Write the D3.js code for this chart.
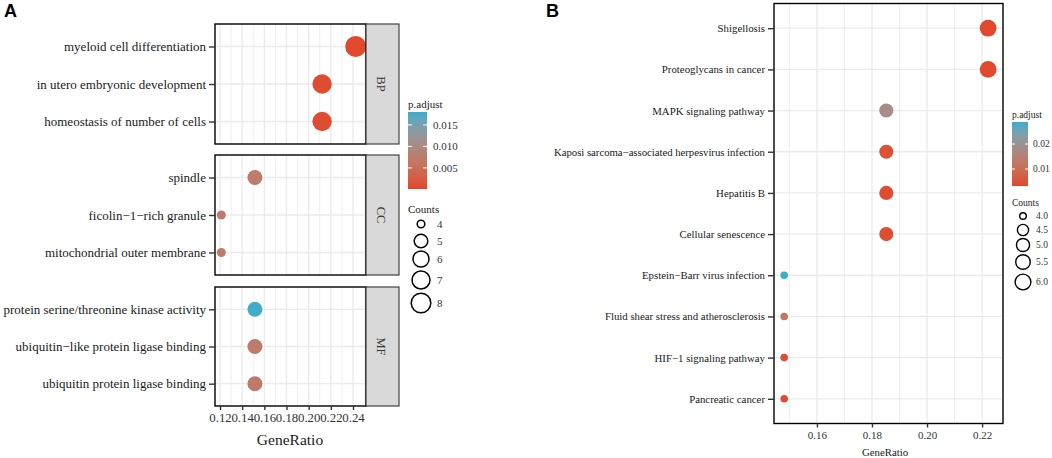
<!DOCTYPE html>
<html><head><meta charset="utf-8">
<script src="https://cdn.jsdelivr.net/npm/d3@7"></script>
<style>body{margin:0;background:#fff}svg{display:block}text{font-family:"Liberation Serif","Times New Roman",serif;fill:#1a1a1a}</style>
</head><body>
<svg id="c" width="1052" height="458"></svg>
<script>
// ---- Panel A data ----
const goOntology = ["BP","BP","BP","CC","CC","CC","MF","MF","MF"];
const goTerms = ["myeloid cell differentiation","in utero embryonic development","homeostasis of number of cells",
  "spindle","ficolin\u22121\u2212rich granule","mitochondrial outer membrane",
  "protein serine/threonine kinase activity","ubiquitin\u2212like protein ligase binding","ubiquitin protein ligase binding"];
const goRatio = [0.2424,0.2121,0.2121,0.1515,0.1212,0.1212,0.1515,0.1515,0.1515];
const goCounts = [8,7,7,5,4,4,5,5,5];
const goPadj = [0.0003,0.0006,0.0006,0.0072,0.0075,0.0075,0.0178,0.0072,0.0072];
const goXTicks = [0.12,0.14,0.16,0.18,0.20,0.22,0.24];
const goPadjTicks = [0.005,0.010,0.015];
const goCountTicks = [4,5,6,7,8];
// ---- Panel B data ----
const keggTerms = ["Shigellosis","Proteoglycans in cancer","MAPK signaling pathway",
  "Kaposi sarcoma\u2212associated herpesvirus infection","Hepatitis B","Cellular senescence",
  "Epstein\u2212Barr virus infection","Fluid shear stress and atherosclerosis","HIF\u22121 signaling pathway","Pancreatic cancer"];
const keggRatio = [0.2222,0.2222,0.1852,0.1852,0.1852,0.1852,0.1481,0.1481,0.1481,0.1481];
const keggCounts = [6,6,5,5,5,5,4,4,4,4];
const keggPadj = [0.0034,0.0034,0.0180,0.0045,0.0040,0.0040,0.0288,0.0120,0.0045,0.0040];
const keggXTicks = [0.16,0.18,0.20,0.22];
const keggPadjTicks = [0.01,0.02];
const keggCountTicks = [4.0,4.5,5.0,5.5,6.0];

const svg = d3.select("#c");
const LOW="#E2472D", HIGH="#3AAECB";
const gridCol="#EBEBEB";
const SERIF="Liberation Serif, Times New Roman, serif";

function areaSize(lo,hi,rmin,rmax){
  return v => rmin + (rmax-rmin)*Math.sqrt((v-lo)/(hi-lo));
}

svg.append("text").attr("x",4).attr("y",17).text("A").style("font-family","Liberation Sans, Arial, sans-serif").style("font-weight","bold").style("font-size","18px").style("fill","#000");
svg.append("text").attr("x",546).attr("y",17).text("B").style("font-family","Liberation Sans, Arial, sans-serif").style("font-weight","bold").style("font-size","18px").style("fill","#000");

// ===== Panel A =====
(function(){
  const x = d3.scaleLinear().domain([0.1155,0.2517]).range([215,366]);
  const col = d3.scaleLinear().domain([0.0001,0.018]).range([LOW,HIGH]).interpolate(d3.interpolateLab);
  const rs = areaSize(4,8,4.5,10.5);
  const facets = [{k:"BP",y0:24,y1:144},{k:"CC",y0:155,y1:275},{k:"MF",y0:287,y1:406}];
  const minor = [0.13,0.15,0.17,0.19,0.21,0.23,0.25];
  facets.forEach(f=>{
    const idx = goOntology.map((o,i)=>o===f.k?i:-1).filter(i=>i>=0);
    const y = d3.scalePoint().domain(idx.map(i=>goTerms[i])).range([f.y0,f.y1]).padding(0.6);
    const g = svg.append("g");
    g.selectAll(".mn").data(minor).join("line").attr("x1",d=>x(d)).attr("x2",d=>x(d)).attr("y1",f.y0).attr("y2",f.y1).attr("stroke",gridCol).attr("stroke-width",0.8);
    g.selectAll(".mj").data(goXTicks).join("line").attr("x1",d=>x(d)).attr("x2",d=>x(d)).attr("y1",f.y0).attr("y2",f.y1).attr("stroke",gridCol).attr("stroke-width",1.3);
    g.selectAll(".hy").data(idx).join("line").attr("x1",215).attr("x2",366).attr("y1",i=>y(goTerms[i])).attr("y2",i=>y(goTerms[i])).attr("stroke",gridCol).attr("stroke-width",1.3);
    g.selectAll("circle").data(idx).join("circle").attr("cx",i=>x(goRatio[i])).attr("cy",i=>y(goTerms[i])).attr("r",i=>rs(goCounts[i])).attr("fill",i=>col(goPadj[i]));
    g.append("rect").attr("x",215).attr("y",f.y0).attr("width",151).attr("height",f.y1-f.y0).attr("fill","none").attr("stroke","#000").attr("stroke-width",1.4);
    g.append("rect").attr("x",366).attr("y",f.y0).attr("width",33).attr("height",f.y1-f.y0).attr("fill","#D9D9D9").attr("stroke","#333").attr("stroke-width",1.1);
    g.append("text").attr("transform",`translate(${381},${(f.y0+f.y1)/2}) rotate(90)`).attr("text-anchor","middle").attr("dy","0.35em").style("font-size","12.5px").style("fill","#333").text(f.k);
    const ay = g.append("g").attr("transform","translate(215,0)").call(d3.axisLeft(y).tickSize(6).tickPadding(3));
    ay.select(".domain").remove();
    ay.selectAll("line").attr("stroke","#333").attr("stroke-width",1.4);
    ay.selectAll("text").style("font-size","13px").style("font-family",SERIF).style("fill","#1a1a1a");
  });
  const ax = svg.append("g").attr("transform","translate(0,406)").call(d3.axisBottom(x).tickValues(goXTicks).tickFormat(d3.format(".2f")).tickSize(4).tickPadding(3));
  ax.select(".domain").remove();
  ax.selectAll("line").attr("stroke","#333").attr("stroke-width",1.4);
  ax.selectAll("text").style("font-size","12.8px").style("font-family",SERIF).style("fill","#333");
  svg.append("text").attr("x",290).attr("y",445).attr("text-anchor","middle").style("font-size","15.5px").text("GeneRatio");
  const cb = d3.scaleLinear().domain([0.0001,0.018]).range([189,112]);
  const defs = svg.append("defs");
  const gr = defs.append("linearGradient").attr("id","gA").attr("x1",0).attr("x2",0).attr("y1",1).attr("y2",0);
  d3.range(0,1.0001,0.1).forEach(t=>gr.append("stop").attr("offset",t).attr("stop-color",col(0.0001+t*(0.018-0.0001))));
  svg.append("text").attr("x",408).attr("y",108).style("font-size","11px").text("p.adjust");
  svg.append("rect").attr("x",408).attr("y",112).attr("width",19).attr("height",77).attr("fill","url(#gA)");
  goPadjTicks.forEach(v=>{
    svg.append("line").attr("x1",408).attr("x2",412).attr("y1",cb(v)).attr("y2",cb(v)).attr("stroke","#fff").attr("stroke-width",1);
    svg.append("line").attr("x1",423).attr("x2",427).attr("y1",cb(v)).attr("y2",cb(v)).attr("stroke","#fff").attr("stroke-width",1);
    svg.append("text").attr("x",433).attr("y",cb(v)).attr("dy","0.35em").style("font-size","11px").style("fill","#333").text(d3.format(".3f")(v));
  });
  svg.append("text").attr("x",408).attr("y",213).style("font-size","11px").text("Counts");
  const cy=[224,241,259,280,303];
  goCountTicks.forEach((v,i)=>{
    svg.append("circle").attr("cx",421).attr("cy",cy[i]).attr("r",rs(v)-0.7).attr("fill","#fff").attr("stroke","#000").attr("stroke-width",1.5);
    svg.append("text").attr("x",437).attr("y",cy[i]).attr("dy","0.35em").style("font-size","11px").style("fill","#333").text(v);
  });
})();

// ===== Panel B =====
(function(){
  const x = d3.scaleLinear().domain([0.1444,0.2276]).range([774,1003]);
  const y = d3.scalePoint().domain(keggTerms).range([3.5,423.5]).padding(0.6);
  const col = d3.scaleLinear().domain([0.0032,0.0288]).range([LOW,HIGH]).interpolate(d3.interpolateLab);
  const rs = areaSize(4,6,3.8,8.4);
  const g = svg.append("g");
  const minor=[0.15,0.17,0.19,0.21];
  g.selectAll(".mn").data(minor).join("line").attr("x1",d=>x(d)).attr("x2",d=>x(d)).attr("y1",3.5).attr("y2",423.5).attr("stroke",gridCol).attr("stroke-width",0.8);
  g.selectAll(".mj").data(keggXTicks).join("line").attr("x1",d=>x(d)).attr("x2",d=>x(d)).attr("y1",3.5).attr("y2",423.5).attr("stroke",gridCol).attr("stroke-width",1.3);
  g.selectAll(".hy").data(keggTerms).join("line").attr("x1",774).attr("x2",1003).attr("y1",d=>y(d)).attr("y2",d=>y(d)).attr("stroke",gridCol).attr("stroke-width",1.3);
  g.selectAll("circle").data(keggTerms).join("circle").attr("cx",(d,i)=>x(keggRatio[i])).attr("cy",d=>y(d)).attr("r",(d,i)=>rs(keggCounts[i])).attr("fill",(d,i)=>col(keggPadj[i]));
  g.append("rect").attr("x",774).attr("y",3.5).attr("width",229).attr("height",420).attr("fill","none").attr("stroke","#000").attr("stroke-width",1.4);
  const ay = g.append("g").attr("transform","translate(774,0)").call(d3.axisLeft(y).tickSize(6).tickPadding(3));
  ay.select(".domain").remove();
  ay.selectAll("line").attr("stroke","#333").attr("stroke-width",1.4);
  ay.selectAll("text").style("font-size","10.8px").style("font-family",SERIF).style("fill","#1a1a1a");
  ay.selectAll("text").filter(d=>d.indexOf("Kaposi")===0).attr("textLength",211).attr("lengthAdjust","spacing");
  const ax = svg.append("g").attr("transform","translate(0,423.5)").call(d3.axisBottom(x).tickValues(keggXTicks).tickFormat(d3.format(".2f")).tickSize(4).tickPadding(4));
  ax.select(".domain").remove();
  ax.selectAll("line").attr("stroke","#333").attr("stroke-width",1.4);
  ax.selectAll("text").style("font-size","11px").style("font-family",SERIF).style("fill","#333");
  svg.append("text").attr("x",885).attr("y",456).attr("text-anchor","middle").style("font-size","10.8px").text("GeneRatio");
  const cb = d3.scaleLinear().domain([0.0032,0.0288]).range([186,122]);
  const gr = svg.append("defs").append("linearGradient").attr("id","gB").attr("x1",0).attr("x2",0).attr("y1",1).attr("y2",0);
  d3.range(0,1.0001,0.1).forEach(t=>gr.append("stop").attr("offset",t).attr("stop-color",col(0.0032+t*(0.0288-0.0032))));
  svg.append("text").attr("x",1012).attr("y",118).style("font-size","9.5px").text("p.adjust");
  svg.append("rect").attr("x",1012).attr("y",122).attr("width",16).attr("height",64).attr("fill","url(#gB)");
  keggPadjTicks.forEach(v=>{
    svg.append("line").attr("x1",1012).attr("x2",1015).attr("y1",cb(v)).attr("y2",cb(v)).attr("stroke","#fff");
    svg.append("line").attr("x1",1025).attr("x2",1028).attr("y1",cb(v)).attr("y2",cb(v)).attr("stroke","#fff");
    svg.append("text").attr("x",1033).attr("y",cb(v)).attr("dy","0.35em").style("font-size","9.5px").style("fill","#333").text(d3.format(".2f")(v));
  });
  svg.append("text").attr("x",1012).attr("y",206).style("font-size","9.5px").text("Counts");
  const cy=[216,230,245,262,282];
  keggCountTicks.forEach((v,i)=>{
    svg.append("circle").attr("cx",1023).attr("cy",cy[i]).attr("r",rs(v)-0.5).attr("fill","#fff").attr("stroke","#000").attr("stroke-width",1.4);
    svg.append("text").attr("x",1036).attr("y",cy[i]).attr("dy","0.35em").style("font-size","9.5px").style("fill","#333").text(d3.format(".1f")(v));
  });
})();
</script>
</body></html>
